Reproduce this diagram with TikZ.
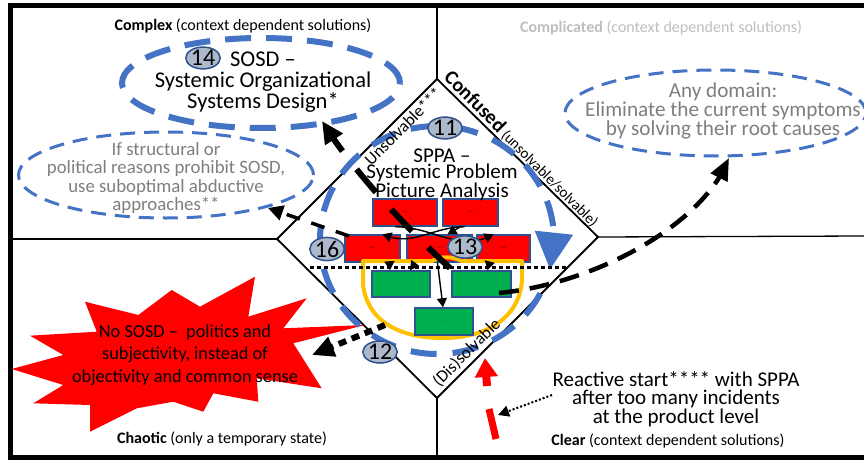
\documentclass[tikz,border=0pt]{standalone}
\usepackage{fontspec}
\setmainfont{Carlito}
\usetikzlibrary{arrows.meta,shapes.geometric,calc,bending}
\definecolor{cblue}{HTML}{4472C4}
\definecolor{bfill}{HTML}{ADB9CA}
\definecolor{bdark}{HTML}{2F528F}
\definecolor{cred}{HTML}{FF0000}
\definecolor{cgreen}{HTML}{00B050}
\definecolor{cyellow}{HTML}{FFC000}
\definecolor{cgray}{HTML}{7F7F7F}
\definecolor{clight}{HTML}{BFBFBF}
\newcommand{\myfs}[2]{\fontsize{#1}{#2}\selectfont}
\begin{document}
\begin{tikzpicture}[x=1pt,y=-1pt,
  frameline/.style={line width=5pt},
  divline/.style={line width=1.3pt},
  diamondline/.style={line width=1.8pt},
  thickell/.style={draw=cblue, line width=6pt, dash pattern=on 26pt off 15pt, ellipse, inner sep=0pt},
  thinell/.style={draw=cblue, line width=3pt, dash pattern=on 15pt off 9pt, ellipse, inner sep=0pt},
  badge/.style={ellipse, draw=bdark, line width=1.5pt, fill=bfill, inner sep=0pt, font=\myfs{24}{24}},
  redbox/.style={rectangle, draw=bdark, line width=1.5pt, fill=cred, inner sep=0pt, font=\myfs{7}{7}, text=black!70!red},
  greenbox/.style={rectangle, draw=bdark, line width=1.5pt, fill=cgreen, inner sep=0pt, font=\myfs{4}{4}, text=black!60!green},
  boxarrow/.style={line width=1.4pt, -{Triangle[length=9pt,width=10pt]}},
  quad/.style={font=\myfs{16}{17}, inner sep=0pt},
  body/.style={align=center, inner sep=0pt},
]
\clip (0,0) rectangle (864,460);
\useasboundingbox (0,0) rectangle (864,460);
\fill[white] (0,0) rectangle (864,460);

% diamond corners
\coordinate (dT) at (437,79);
\coordinate (dR) at (598,237);
\coordinate (dB) at (437,398);
\coordinate (dL) at (277,239);

% dividing lines
\draw[divline] (437,5) -- (dT);
\draw[divline] (10,239) -- (dL);
\draw[divline] (dR) -- (864,236);
\draw[divline] (dB) -- (437,457);
\draw[diamondline] (dT) -- (dR) -- (dB) -- (dL) -- cycle;

% frame
\draw[frameline] (10.5,5.5) -- (880,5.5);
\draw[frameline] (10.5,3) -- (10.5,460);
\draw[frameline] (10.5,457) -- (880,457);

% ellipses
\node[thickell, minimum width=278pt, minimum height=90pt] (sosdell) at (261,83) {};
\node[thinell, minimum width=295pt, minimum height=86pt] (ifell) at (166,175) {};
\node[thinell, minimum width=301pt, minimum height=86pt] (anyell) at (715.5,113) {};

% explosion
\fill[cred] (11.7,369) -- (63.3,355) -- (30,335.7) -- (96.7,331.7) -- (85,301.7) -- (138.3,315) -- (171.7,290) -- (200,306.7) -- (255,276.7) -- (248.3,316.7) -- (306.7,298.3) -- (283.3,328.3) -- (365,325) -- (293.3,343.3) -- (321.7,388.3) -- (256.7,378.3) -- (258.3,401.7) -- (213.3,393.3) -- (203.3,411.7) -- (173.3,401.7) -- (136.7,408.3) -- (90,431.7) -- (90,405) -- (33.3,403.3) -- (63.3,385) -- cycle;

% big dashed circle
\draw[draw=cblue, line width=6pt, dash pattern=on 26pt off 16pt, -{Triangle[length=37pt,width=37pt,flex]}] (437,240) ++(28:117 and 114) arc[start angle=28, end angle=375, x radius=117, y radius=114];

% red boxes
\node[redbox, minimum width=64pt, minimum height=27pt] (A) at (405,212.5) {—};
\node[redbox, minimum width=55pt, minimum height=27pt] (B) at (470.5,212.5) {—};
\node[redbox, minimum width=55pt, minimum height=27pt] (C) at (372.5,248.5) {—};
\node[redbox, minimum width=65pt, minimum height=27pt] (D) at (439.5,248.5) {—};
\node[redbox, minimum width=53pt, minimum height=27pt] (E) at (503.5,248.5) {—};

% yellow bowl
\draw[cyellow, line width=4pt, line join=round] (363,261) -- (363,285) .. controls (368,322) and (400,338) .. (443,338) .. controls (490,338) and (520,315) .. (522,280) -- (522,261) -- (462,261) .. controls (452,257) and (444,255) .. (432,261) -- cycle;

% green boxes
\node[greenbox, minimum width=58pt, minimum height=26pt] (G1) at (401,284) {-- --};
\node[greenbox, minimum width=59pt, minimum height=26pt] (G2) at (481.5,284) {-- --};
\node[greenbox, minimum width=58pt, minimum height=27pt] (G3) at (444,321.5) {-- --};

% arrows between boxes
\draw[boxarrow] ([xshift=-6pt]B.south) to[out=180,in=-25] ([xshift=10pt]C.north);
\draw[boxarrow] ([xshift=-10pt]A.south) to[out=0,in=-150] ([xshift=-10pt]E.north);
\draw[boxarrow] ([xshift=-10pt]B.south) -- ([xshift=8pt]D.north);
\draw[boxarrow] ([xshift=17pt]C.south) -- ([xshift=-11pt]G1.north);
\draw[boxarrow] ([xshift=-24pt]D.south) -- ([xshift=9pt]G1.north);
\draw[boxarrow] ([xshift=-14pt]E.south) -- ([xshift=6pt]G2.north);
\draw[boxarrow] ([xshift=-2pt]D.south) -- ([xshift=-1pt]G3.north);

% dotted separator
\coordinate (dotL) at (310,267);
\coordinate (dotR) at (567,267);
\draw[line width=3pt, dash pattern=on 3.5pt off 3.5pt] (dotL) -- (dotR);

% thick dashed arrows
\coordinate (s1) at (450,268);
\coordinate (tipSOSD) at (322,121);
\draw[line width=6pt, dash pattern=on 30pt off 23pt, -{Triangle[length=22pt,width=20pt]}] (s1) .. controls (412,234) and (350,168) .. (tipSOSD);
\coordinate (s2) at (349,236);
\coordinate (tipIf) at (268,208);
\draw[line width=3.5pt, dash pattern=on 14pt off 12pt, -{Triangle[length=15pt,width=15pt]}] (s2) -- (tipIf);
\coordinate (s3) at (385,325);
\coordinate (tipBurst) at (312,355);
\draw[line width=6pt, dash pattern=on 8pt off 6pt, -{Triangle[length=22pt,width=20pt]}] (s3) -- (tipBurst);
\coordinate (s4) at (499,293);
\coordinate (tipAny) at (729,158);
\draw[line width=4.5pt, dash pattern=on 20pt off 11pt, -{Triangle[length=22pt,width=18pt]}] (s4) .. controls (600,283) and (705,222) .. (tipAny);

% red arrow and red bar
\coordinate (ra1) at (487,386);
\coordinate (ra2) at (485,358);
\draw[cred, line width=8pt, -{Triangle[length=19pt,width=22pt]}] (ra1) -- (ra2);
\coordinate (rb1) at (489,409);
\coordinate (rb2) at (496,439);
\draw[cred, line width=7pt] (rb1) -- (rb2);
\coordinate (rbmid) at (498,415);

% badges
\node[badge] (b14) at (203,58) {14};
\node[badge] (b11) at (445,128) {11};
\node[badge] (b16) at (327,249) {16};
\node[badge] (b13) at (465,247) {13};
\node[badge] (b12) at (380,352) {12};

% texts
\node[body, font=\myfs{22.5}{21}] (sosdtxt) at (263,82) {SOSD –\\Systemic Organizational\\Systems Design*};
\node[body, font=\myfs{18.8}{18.5}, text=cgray] (iftxt) at (166,178) {If structural or\\political reasons prohibit SOSD,\\use suboptimal abductive\\approaches**};
\node[body, font=\myfs{21.2}{18}, text=cgray] (anytxt) at (723,111) {Any domain:\\Eliminate the current symptoms\\by solving their root causes};
\node[body, font=\myfs{21}{16}] (sppatxt) at (442,175) {SPPA –\\Systemic Problem\\Picture Analysis};
\node[body, font=\myfs{18.3}{22.5}] (burst) at (185,355) {No SOSD –\ \ politics and\\subjectivity, instead of\\objectivity and common sense};
\node[body, font=\myfs{21}{18.5}] (react) at (676,399) {Reactive start**** with SPPA\\after too many incidents\\at the product level};
\coordinate (rs) at (552,395);
\draw[line width=2pt, dash pattern=on 2pt off 2pt, -{Triangle[length=11pt,width=11pt]}] (rs) -- (rbmid);

\node[quad] (lcx) at (243,26) {\textbf{Complex} (context dependent solutions)};
\node[quad, text=clight] (lcd) at (661,28) {\textbf{Complicated} (context dependent solutions)};
\node[quad] (lch) at (222,439) {\textbf{Chaotic} (only a temporary state)};
\node[quad] (lcl) at (668,441) {\textbf{Clear} (context dependent solutions)};

\node[rotate=-45, anchor=base west, inner sep=0pt] (conf) at (443,78.5) {\myfs{20}{20}\bfseries Confused\myfs{15}{15}\mdseries\ (unsolvable/solvable)};
\node[rotate=45, anchor=north west, inner sep=0pt, font=\myfs{17}{17}] (unsolv) at (362.5,158) {Unsolvable***};
\node[rotate=45, anchor=south west, inner sep=0pt, font=\myfs{17}{17}] (dissolv) at (441,389) {(Dis)solvable};
\end{tikzpicture}
\end{document}
